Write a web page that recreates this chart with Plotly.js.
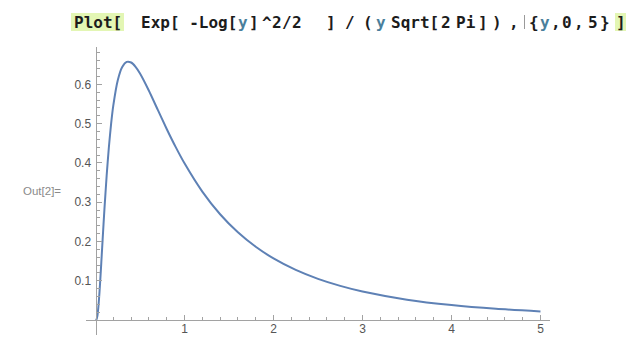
<!DOCTYPE html>
<html>
<head>
<meta charset="utf-8">
<script src="https://cdn.plot.ly/plotly-3.0.1.min.js"></script>
<style>
  html, body { margin: 0; padding: 0; background: #ffffff; }
  #plot { width: 629px; height: 337px; }
</style>
</head>
<body>
<div id="plot"></div>
<script>
// Lognormal density sampled along y from 0 to 5
const yVals = [0, 0.01, 0.02, 0.03, 0.04, 0.05, 0.06, 0.07, 0.08, 0.09, 0.1, 0.125, 0.15, 0.175,
  0.2, 0.25, 0.3, 0.35, 0.4, 0.45, 0.5, 0.6, 0.7, 0.8, 0.9, 1.0, 1.2, 1.4, 1.6, 1.8, 2.0,
  2.25, 2.5, 2.75, 3.0, 3.5, 4.0, 4.5, 5.0];
const density = [0, 0.001, 0.0095, 0.0284, 0.0562, 0.0898, 0.127, 0.1661, 0.2054, 0.2441, 0.2816,
  0.3673, 0.4399, 0.4991, 0.5463, 0.6105, 0.6442, 0.657, 0.6555, 0.6445, 0.6275, 0.5836,
  0.5348, 0.4864, 0.4408, 0.3989, 0.327, 0.2693, 0.2233, 0.1865, 0.1569, 0.1276, 0.1049,
  0.087, 0.0727, 0.052, 0.0382, 0.0286, 0.0219];

const xTickVals = [1, 2, 3, 4, 5];
const xTickText = ["1", "2", "3", "4", "5"];
const yTickVals = [0.1, 0.2, 0.3, 0.4, 0.5, 0.6];
const yTickText = ["0.1", "0.2", "0.3", "0.4", "0.5", "0.6"];

// Input cell tokens: [text, left pixel, colour]
const INK = "#1c1c1c", VAR = "#4a7f9c";
const codeTokens = [
  ["Plot[", 73, INK],
  ["Exp[ -Log[", 140, INK],
  ["y", 237, VAR],
  ["]", 248, INK],
  ["^", 261, INK],
  ["2", 271, INK],
  ["/", 281, INK],
  ["2", 291, INK],
  ["]", 325, INK],
  ["/", 344, INK],
  ["(", 362, INK],
  ["y", 375, VAR],
  ["Sqrt[", 390, INK],
  ["2", 440, INK],
  ["Pi", 455, INK],
  ["]", 477, INK],
  [")", 491, INK],
  [",", 508, INK],
  ["{", 528, INK],
  ["y", 539, VAR],
  [",", 550, INK],
  ["0", 561, INK],
  [",", 573, INK],
  ["5", 587, INK],
  ["}", 599, INK],
  ["]", 615, INK]
];

// Plot box in pixels and the axis ranges it spans
const W = 629, H = 337;
const M = { l: 86, r: 79, t: 47, b: 2 };
const xRange = [-0.107, 5.107];
const yRange = [-0.038, 0.695];
const PW = W - M.l - M.r, PH = H - M.t - M.b;
const px2x = p => (p - M.l) / PW;
const py2y = p => 1 - (p - M.t) / PH;

function steps(a, b, d, skip) {
  const out = [];
  for (let v = a; v <= b + 1e-9; v += d) {
    const r = Math.round(v * 1000) / 1000;
    if (!skip.some(s => Math.abs(s - r) < 1e-6)) out.push(r);
  }
  return out;
}
const xMinor = steps(0.2, 5, 0.2, xTickVals);
const yMinor = steps(0.02, 0.68, 0.02, yTickVals);

const axisGrey = "#a2a2a2";
const labelFont = { family: "Liberation Sans, Arial, sans-serif", size: 12, color: "#555555" };

const annotations = codeTokens.map(([t, x, c]) => ({
  text: t, xref: "paper", yref: "paper", x: px2x(x), y: py2y(22.5),
  xanchor: "left", yanchor: "middle", showarrow: false, borderpad: 0,
  font: { family: "DejaVu Sans Mono, monospace", size: 16, color: c, weight: "bold" }
}));
annotations.push({
  text: "Out[2]=", xref: "paper", yref: "paper", x: px2x(22), y: py2y(191),
  xanchor: "left", yanchor: "middle", showarrow: false, borderpad: 0,
  font: { family: "Liberation Sans, Arial, sans-serif", size: 11.5, color: "#8a8a8a" }
});

const shapes = [
  // bracket-match highlight on "Plot[" and the closing "]"
  { type: "rect", xref: "paper", yref: "paper", layer: "below", line: { width: 0 },
    fillcolor: "#e3f6b4", x0: px2x(71), x1: px2x(124), y0: py2y(31), y1: py2y(13) },
  { type: "rect", xref: "paper", yref: "paper", layer: "below", line: { width: 0 },
    fillcolor: "#e3f6b4", x0: px2x(615), x1: px2x(626), y0: py2y(31), y1: py2y(13) },
  // text cursor
  { type: "line", xref: "paper", yref: "paper", line: { color: "#9a9a9a", width: 1 },
    x0: px2x(524.5), x1: px2x(524.5), y0: py2y(29), y1: py2y(15) }
];

const trace = {
  x: yVals, y: density, type: "scatter", mode: "lines",
  line: { color: "#5e81b5", width: 2, shape: "spline", smoothing: 0.6 },
  hoverinfo: "skip"
};

const layout = {
  width: W, height: H, margin: M,
  paper_bgcolor: "#ffffff", plot_bgcolor: "#ffffff",
  showlegend: false,
  xaxis: {
    range: xRange, anchor: "free",
    position: (0 - yRange[0]) / (yRange[1] - yRange[0]),
    showgrid: false, zeroline: false, showline: true, linecolor: axisGrey, linewidth: 1,
    tickmode: "array", tickvals: xTickVals, ticktext: xTickText,
    ticks: "inside", ticklen: 5, tickcolor: axisGrey, tickwidth: 1,
    tickfont: labelFont, ticklabelstandoff: -2,
    minor: { tickmode: "array", tickvals: xMinor, ticks: "inside", ticklen: 3,
             tickcolor: axisGrey, tickwidth: 1, showgrid: false }
  },
  yaxis: {
    range: yRange, anchor: "free",
    position: (0 - xRange[0]) / (xRange[1] - xRange[0]),
    showgrid: false, zeroline: false, showline: true, linecolor: axisGrey, linewidth: 1,
    tickmode: "array", tickvals: yTickVals, ticktext: yTickText,
    ticks: "inside", ticklen: 5, tickcolor: axisGrey, tickwidth: 1,
    tickfont: labelFont, ticklabelstandoff: 2,
    minor: { tickmode: "array", tickvals: yMinor, ticks: "inside", ticklen: 3,
             tickcolor: axisGrey, tickwidth: 1, showgrid: false }
  },
  annotations: annotations,
  shapes: shapes
};

Plotly.newPlot("plot", [trace], layout, { staticPlot: true, displayModeBar: false });
</script>
</body>
</html>
